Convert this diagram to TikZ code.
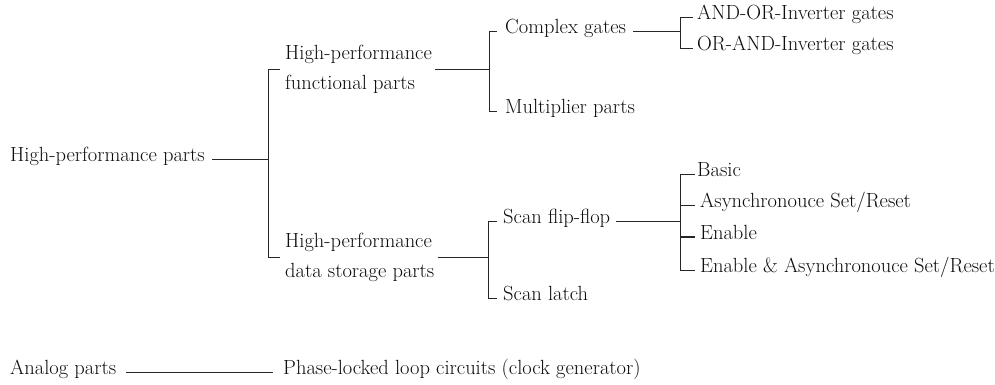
\documentclass[tikz,border=0pt]{standalone}
\usepackage{fontspec}
\begin{document}
\begin{tikzpicture}[x=1pt,y=-1pt,
  base/.style={anchor=west,inner sep=0pt,
    font=\fontsize{20.5}{30}\selectfont,text=black!95},
  lbl/.style={base,text height=1.45ex,text depth=0.25ex},
  two/.style={base,align=left},
  conn/.style={line width=0.8pt,draw=black!85}]
\useasboundingbox[fill=white] (0,0) rectangle (995,384);
% spines
\coordinate (s1) at (268,0);
\coordinate (s2a) at (489,0);
\coordinate (s2b) at (488,0);
\coordinate (s3a) at (680,0);
\coordinate (s3b) at (680,0);
% nodes
\node[lbl] (root) at (10,159) {High-performance parts};
\node[two] (hpf) at (285,69) {High-performance\\functional parts};
\node[two] (hpd) at (285,257) {High-performance\\data storage parts};
\node[lbl] (cg) at (505,31) {Complex gates};
\node[lbl] (mp) at (505,111) {Multiplier parts};
\node[lbl] (aoi) at (697,17) {AND-OR-Inverter gates};
\node[lbl] (oai) at (697,48) {OR-AND-Inverter gates};
\node[lbl] (sff) at (503,221) {Scan flip-flop};
\node[lbl] (sl) at (503,298) {Scan latch};
\node[lbl] (basic) at (697,174) {Basic};
\node[lbl] (async) at (700,205) {Asynchronouce Set/Reset};
\node[lbl] (en) at (700,237) {Enable};
\node[lbl] (ena) at (700,270) {Enable \& Asynchronouce Set/Reset};
\node[lbl] (analog) at (10,372) {Analog parts};
\node[lbl] (pll) at (283,372) {Phase-locked loop circuits (clock generator)};
% level 1
\draw[conn] ([xshift=7pt]root.east) -- (root.east -| s1);
\draw[conn] ([xshift=-5pt]hpf.west) -- (hpf.west -| s1) -- (hpd.west -| s1) -- ([xshift=-5pt]hpd.west);
% level 2 top
\draw[conn] ([xshift=3pt]hpf.east) -- (hpf.east -| s2a);
\draw[conn] ([xshift=-8pt]cg.west) -- (cg.west -| s2a) -- (mp.west -| s2a) -- ([xshift=-8pt]mp.west);
% level 3 top
\draw[conn] ([xshift=7pt]cg.east) -- (cg.east -| s3a);
\draw[conn] ([xshift=-4pt]aoi.west) -- (aoi.west -| s3a) -- (oai.west -| s3a) -- ([xshift=-4pt]oai.west);
% level 2 bottom
\draw[conn] ([xshift=3pt]hpd.east) -- (hpd.east -| s2b);
\draw[conn] ([xshift=-6pt]sff.west) -- (sff.west -| s2b) -- (sl.west -| s2b) -- ([xshift=-6pt]sl.west);
% level 3 bottom
\draw[conn] ([xshift=6pt]sff.east) -- (sff.east -| s3b);
\draw[conn] ([xshift=-2pt]basic.west) -- (basic.west -| s3b) -- (ena.west -| s3b) -- ([xshift=-5pt]ena.west);
\draw[conn] ([xshift=-5pt]async.west) -- (async.west -| s3b);
\draw[conn,line width=1.4pt] ([xshift=-5pt]en.west) -- (en.west -| s3b);
% analog
\draw[conn] ([xshift=10pt]analog.east) -- ([xshift=-10pt]pll.west);
\end{tikzpicture}
\end{document}
